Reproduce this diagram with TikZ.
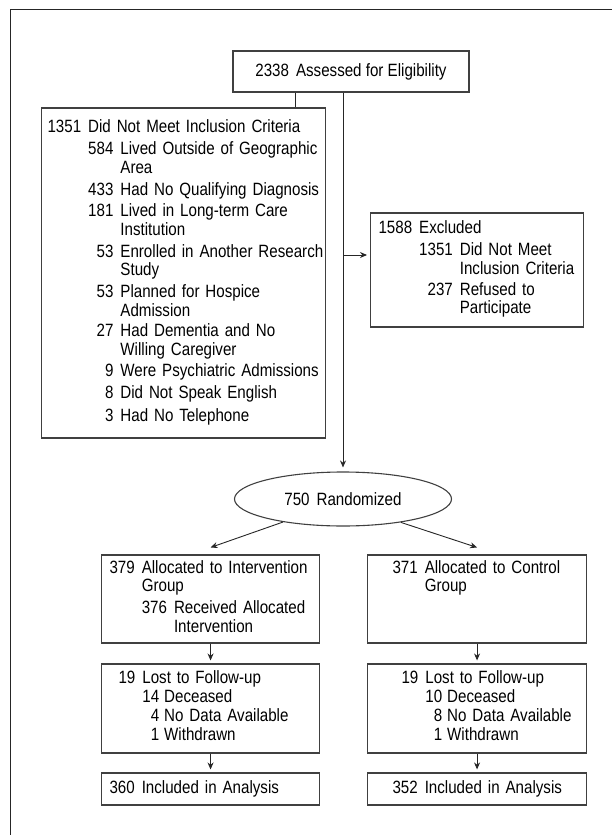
\documentclass[tikz,border=0pt]{standalone}
\usepackage{fontspec}
\setmainfont{Liberation Sans}[FakeStretch=0.85]
\usetikzlibrary{shapes.geometric,arrows.meta}

\newcommand{\flowfont}{\fontsize{17.8}{18.5}\selectfont}
\newcommand{\head}[1]{\multicolumn{2}{@{}l@{}}{#1}}

\begin{document}
\begin{tikzpicture}[x=1pt, y=-1pt,
  box/.style={draw=black!75, line width=1.1pt, rectangle, anchor=west, align=left,
    inner xsep=4pt, inner ysep=0pt, font=\flowfont},
  line/.style={line width=0.9pt, draw=black!85},
  arrow/.style={line, -{Stealth[length=7pt, width=6pt]}}]

\useasboundingbox (0,0) rectangle (612,835);
\draw[line width=1.8pt, black!85] (10.5,835) -- (10.5,9.5) -- (612,9.5);

\node[box, anchor=center, align=center, minimum width=236pt, minimum height=41pt] (assess) at (351,71.5)
  {2338\hspace{7pt}Assessed for Eligibility};

\node[box, text width=276pt, minimum height=330pt] (notmeet) at (41,273) {\hspace*{2pt}%
\begin{tabular}{@{}r@{\hspace{7pt}}r@{\hspace{7pt}}l@{}}
1351 & \head{Did Not Meet Inclusion Criteria}\\[4pt]
 & 584 & Lived Outside of Geographic\\
 & & Area\\[3.5pt]
 & 433 & Had No Qualifying Diagnosis\\[3pt]
 & 181 & Lived in Long-term Care\\
 & & Institution\\[3.5pt]
 & 53 & Enrolled in Another Research\\
 & & Study\\[3.5pt]
 & 53 & Planned for Hospice\\
 & & Admission\\[2pt]
 & 27 & Had Dementia and No\\
 & & Willing Caregiver\\[2.5pt]
 & 9 & Were Psychiatric Admissions\\[4pt]
 & 8 & Did Not Speak English\\[4pt]
 & 3 & Had No Telephone
\end{tabular}};

\node[box, text width=205pt, minimum height=114pt] (excl) at (370,270) {\hspace*{4pt}%
\begin{tabular}{@{}r@{\hspace{7pt}}r@{\hspace{7pt}}l@{}}
1588 & \head{Excluded}\\[4pt]
 & 1351 & Did Not Meet\\
 & & Inclusion Criteria\\[2.5pt]
 & 237 & Refused to\\
 & & Participate
\end{tabular}};

\node[box, ellipse, anchor=center, minimum width=217pt, minimum height=54pt] (rand) at (343,499)
  {750\hspace{7pt}Randomized};

\node[box, text width=210pt, minimum height=88pt] (intv) at (101,599) {\hspace*{4pt}%
\begin{tabular}{@{}r@{\hspace{7pt}}r@{\hspace{7pt}}l@{}}
379 & \head{Allocated to Intervention}\\
 & \head{Group}\\[3.5pt]
 & 376 & Received Allocated\\
 & & Intervention
\end{tabular}};

\node[box, text width=211pt, minimum height=88pt] (ctrl) at (367,599) {\hspace*{21pt}%
\begin{tabular}{@{}r@{\hspace{7pt}}l@{}}
371 & Allocated to Control\\
 & Group\\[3.5pt]
 & \\
 & 
\end{tabular}};

\node[box, text width=210pt, minimum height=89pt] (lostI) at (101,708.5) {\hspace*{13pt}%
\begin{tabular}{@{}r@{\hspace{7pt}}r@{\hspace{5pt}}l@{}}
19 & \head{Lost to Follow-up}\\
 & 14 & Deceased\\[1pt]
 & 4 & No Data Available\\
 & 1 & Withdrawn
\end{tabular}};

\node[box, text width=211pt, minimum height=89pt] (lostC) at (367,708.5) {\hspace*{30pt}%
\begin{tabular}{@{}r@{\hspace{7pt}}r@{\hspace{5pt}}l@{}}
19 & \head{Lost to Follow-up}\\
 & 10 & Deceased\\[1pt]
 & 8 & No Data Available\\
 & 1 & Withdrawn
\end{tabular}};

\node[box, text width=210pt, minimum height=32pt] (inclI) at (101,789)
  {\hspace*{4pt}360\hspace{7pt}Included in Analysis};
\node[box, text width=211pt, minimum height=32pt] (inclC) at (367,789)
  {\hspace*{21pt}352\hspace{7pt}Included in Analysis};

\draw[line] ([xshift=-56pt]assess.south) -- ([xshift=-56pt]assess.south |- notmeet.north);
\draw[arrow, shorten >=4pt] ([xshift=-8pt]assess.south) -- (rand.north);
\draw[arrow, shorten >=3pt] ([yshift=15pt]excl.west -| rand.north) -- ([yshift=15pt]excl.west);

\draw[arrow] (rand.201) -- ([yshift=7pt]intv.north);
\draw[arrow] (rand.338) -- ([yshift=7pt]ctrl.north);

\draw[arrow, shorten >=3pt] (intv.south) -- (lostI.north);
\draw[arrow, shorten >=3pt] (lostI.south) -- (inclI.north);
\draw[arrow, shorten >=3pt] (ctrl.south) -- (lostC.north);
\draw[arrow, shorten >=3pt] (lostC.south) -- (inclC.north);
\end{tikzpicture}
\end{document}
